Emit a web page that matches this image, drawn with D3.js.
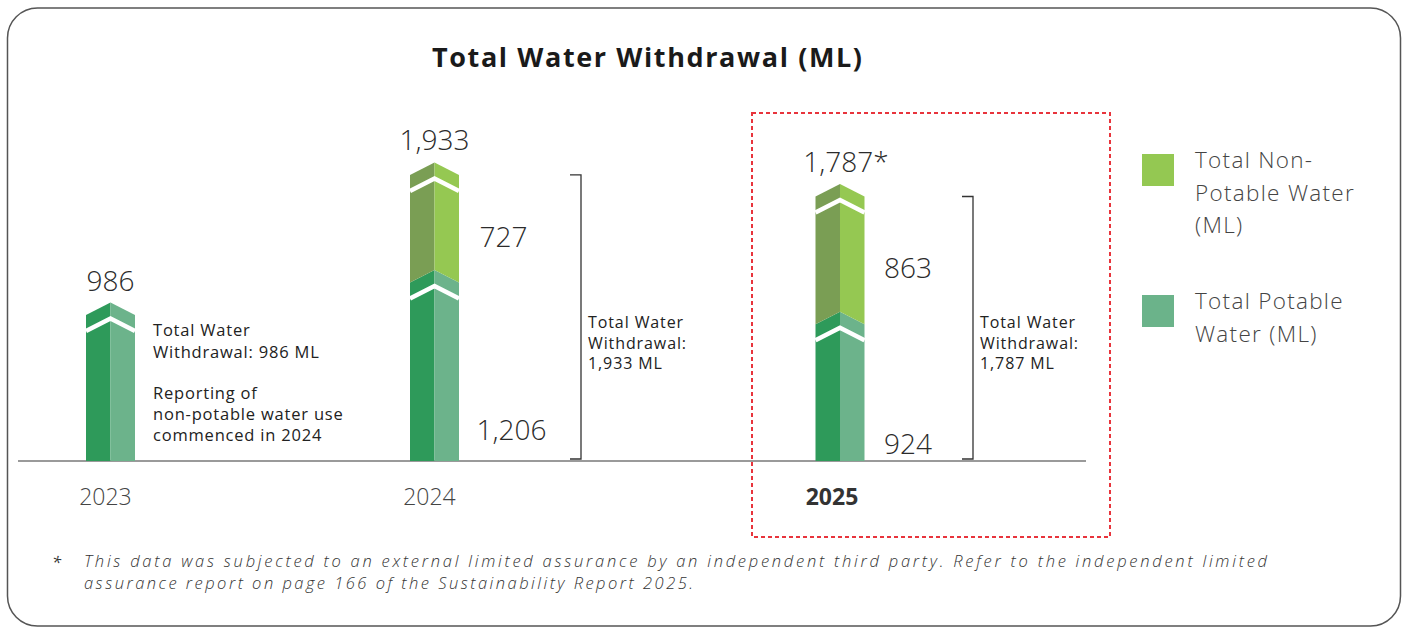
<!DOCTYPE html>
<html>
<head>
<meta charset="utf-8">
<script src="https://cdn.jsdelivr.net/npm/d3@7"></script>
<style>
  html, body { margin: 0; padding: 0; background: #fff; }
  svg { display: block; }
  text { font-family: "Open Sans", "DejaVu Sans", sans-serif; }
</style>
</head>
<body>
<svg id="chart" width="1404" height="627"></svg>
<script>
// ---- data ----
const years = ["2023", "2024", "2025"];
const potable = [986, 1206, 924];
const nonPotable = [0, 727, 863];
const totals = [986, 1933, 1787];
const totalLabels = ["986", "1,933", "1,787"];
const assured = [false, false, true];
const potableLabels = ["", "1,206", "924"];
const nonPotableLabels = ["", "727", "863"];
const titleText = "Total Water Withdrawal (ML)";
const footnoteLines = [
  "This data was subjected to an external limited assurance by an independent third party. Refer to the independent limited",
  "assurance report on page 166 of the Sustainability Report 2025."
];

// ---- layout ----
const svg = d3.select("#chart");
const baseY = 461;
const barW = 49;
const rise = 12.5;          // height of the chevron peak on each segment
const col = {
  potL: "#2e9a5a", potR: "#6cb38b",
  nonL: "#7a9e54", nonR: "#95c852"
};

const x = d3.scaleOrdinal().domain(years).range([110.5, 434.5, 840]);
const y = d3.scaleLinear().domain([0, 2000]).range([baseY, baseY - 2000 * 0.148]);

const rows = years.map((yr, i) => ({ year: yr, potable: potable[i], nonPotable: nonPotable[i] }));
const layers = d3.stack().keys(["potable", "nonPotable"])(rows);

// outer frame
svg.append("rect")
  .attr("x", 7.5).attr("y", 8).attr("width", 1393).attr("height", 618)
  .attr("rx", 30).attr("ry", 30)
  .attr("fill", "none").attr("stroke", "#555").attr("stroke-width", 1.5);

// highlight box around the latest year
svg.append("rect")
  .attr("x", 752).attr("y", 113).attr("width", 358).attr("height", 424)
  .attr("fill", "none").attr("stroke", "#e8343c").attr("stroke-width", 2)
  .attr("stroke-dasharray", "4,3");

// title
svg.append("text")
  .attr("x", 432).attr("y", 67)
  .attr("font-size", 27).attr("font-weight", 700)
  .attr("textLength", 430).attr("lengthAdjust", "spacing")
  .attr("fill", "#1a1a1a")
  .text(titleText);

// baseline
svg.append("line")
  .attr("x1", 18).attr("x2", 1086).attr("y1", baseY).attr("y2", baseY)
  .attr("stroke", "#9a9a9a").attr("stroke-width", 2);

// each half of a bar segment is a column with a chevron top
function halfPath(cx, y0, y1, side, bottomFlat) {
  const xo = side === "L" ? cx - barW / 2 : cx + barW / 2;
  const r0 = bottomFlat ? 0 : rise;
  return `M${xo},${y1} L${cx},${y1 - rise} L${cx},${y0 - r0} L${xo},${y0} Z`;
}

const gBars = svg.append("g");
layers.forEach(layer => {
  const key = layer.key;
  layer.forEach((d, i) => {
    if (d[1] - d[0] <= 0) return;
    const cx = x(years[i]);
    const y0 = y(d[0]), y1 = y(d[1]);
    const flat = d[0] === 0;
    const cL = key === "potable" ? col.potL : col.nonL;
    const cR = key === "potable" ? col.potR : col.nonR;
    gBars.append("path").attr("d", halfPath(cx, y0, y1, "L", flat)).attr("fill", cL);
    gBars.append("path").attr("d", halfPath(cx, y0, y1, "R", flat)).attr("fill", cR);
    // white break chevron below the segment cap
    const dy = 16;
    gBars.append("path")
      .attr("d", `M${cx - barW / 2},${y1 + dy} L${cx},${y1 - rise + dy} L${cx + barW / 2},${y1 + dy}`)
      .attr("fill", "none").attr("stroke", "#fff").attr("stroke-width", 4.5)
      .attr("stroke-linejoin", "miter");
  });
});

// total labels above bars
years.forEach((yr, i) => {
  const cx = x(yr);
  const t = svg.append("text")
    .attr("x", assured[i] ? cx + 6 : cx)
    .attr("y", y(totals[i]) - rise - 12)
    .attr("text-anchor", "middle")
    .attr("font-size", 28).attr("font-weight", 300)
    .attr("fill", "#2b2b2b")
    .text(totalLabels[i]);
  if (assured[i]) t.append("tspan").text("*");
});

// segment value labels beside the bars
const segLabelDx = [0, 69, 68];
const potableLabelY = [0, 430, 444];
years.forEach((yr, i) => {
  if (!nonPotable[i]) return;
  const cx = x(yr) + segLabelDx[i];
  const top = y(potable[i] + nonPotable[i]);
  const bot = y(potable[i]);
  svg.append("text")
    .attr("x", cx).attr("y", (top + bot) / 2 + 18)
    .attr("text-anchor", "middle")
    .attr("font-size", 28).attr("font-weight", 300).attr("fill", "#2b2b2b")
    .text(nonPotableLabels[i]);
  svg.append("text")
    .attr("x", cx + (i === 1 ? 8 : 0)).attr("y", potableLabelY[i] + 10)
    .attr("text-anchor", "middle")
    .attr("font-size", 28).attr("font-weight", 300).attr("fill", "#2b2b2b")
    .text(potableLabels[i]);
});

// year labels
years.forEach((yr, i) => {
  const last = i === years.length - 1;
  svg.append("text")
    .attr("x", x(yr) - (last ? 8 : 5)).attr("y", 505)
    .attr("text-anchor", "middle")
    .attr("font-size", 23)
    .attr("font-weight", last ? 700 : 300)
    .attr("fill", last ? "#333" : "#444")
    .text(yr);
});

// note beside the first bar
const note2023 = [
  ["Total Water", 336], ["Withdrawal: 986 ML", 358],
  ["Reporting of", 399], ["non-potable water use", 420], ["commenced in 2024", 441]
];
note2023.forEach(([s, yy]) => {
  svg.append("text").attr("x", 153).attr("y", yy)
    .attr("font-size", 16.5).attr("letter-spacing", 0.8)
    .attr("fill", "#222").text(s);
});

// total brackets
const bracketDx = [0, 146.5, 133];
const bracketText = [null,
  ["Total Water", "Withdrawal:", "1,933 ML"],
  ["Total Water", "Withdrawal:", "1,787 ML"]];
years.forEach((yr, i) => {
  if (!bracketText[i]) return;
  const bx = x(yr) + bracketDx[i];
  const top = y(totals[i]);
  const bot = baseY - 2;
  svg.append("path")
    .attr("d", `M${bx - 11},${top} L${bx},${top} L${bx},${bot} L${bx - 11},${bot}`)
    .attr("fill", "none").attr("stroke", "#333").attr("stroke-width", 1.3);
  bracketText[i].forEach((s, k) => {
    svg.append("text").attr("x", bx + 7).attr("y", 328 + k * 20.5)
      .attr("font-size", 16).attr("letter-spacing", 0.9)
      .attr("fill", "#222").text(s);
  });
});

// legend
const legend = [
  { color: "#94c852", lines: ["Total Non-", "Potable Water", "(ML)"], y: 154 },
  { color: "#6bb38a", lines: ["Total Potable", "Water (ML)"], y: 295 }
];
legend.forEach(l => {
  svg.append("rect").attr("x", 1142).attr("y", l.y).attr("width", 32).attr("height", 32)
    .attr("fill", l.color);
  l.lines.forEach((s, k) => {
    svg.append("text").attr("x", 1195).attr("y", l.y + 14 + k * 32.5)
      .attr("font-size", 22.5).attr("font-weight", 300).attr("letter-spacing", 1.3)
      .attr("fill", "#444").text(s);
  });
});

// footnote
const footWidths = [1183, 609];
svg.append("text").attr("x", 52).attr("y", 568)
  .attr("font-size", 16.5).attr("fill", "#333").attr("font-style", "italic").text("*");
footnoteLines.forEach((s, k) => {
  svg.append("text").attr("x", 84).attr("y", 567 + k * 22)
    .attr("font-size", 16.5).attr("font-style", "italic").attr("font-weight", 300)
    .attr("fill", "#333")
    .attr("textLength", footWidths[k]).attr("lengthAdjust", "spacing")
    .text(s);
});
</script>
</body>
</html>
